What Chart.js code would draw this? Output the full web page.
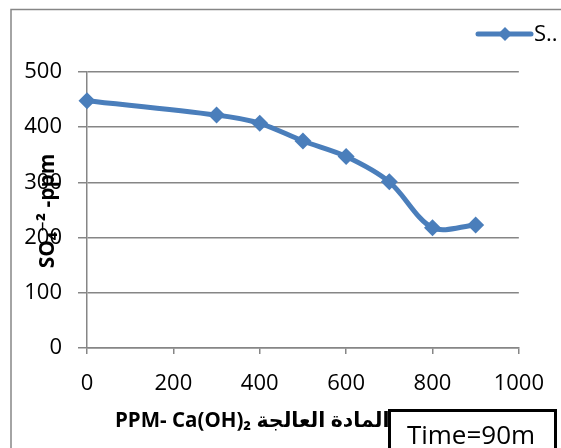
<!DOCTYPE html>
<html>
<head>
<meta charset="utf-8">
<script src="https://cdn.jsdelivr.net/npm/chart.js@4"></script>
<style>
  html, body { margin: 0; padding: 0; background: #fff; }
  #wrap { width: 561px; height: 448px; }
</style>
</head>
<body>
<div id="wrap"><canvas id="grafico" width="561" height="448"></canvas></div>
<script>
// dose of treatment material (ppm Ca(OH)2)
const doses = [0, 300, 400, 500, 600, 700, 800, 900];
// sulfate remaining (ppm)
const sulfate = [448, 422, 407, 375, 347, 301, 218, 223];
const seriesName = "S..";
const xTitle = "PPM- Ca(OH)\u2082 \u0627\u0644\u0645\u0627\u062F\u0629 \u0627\u0644\u0639\u0627\u0644\u062C\u0629";
const yTitle = "SO\u2084\u207B\u00B2 -ppm";
const boxText = "Time=90m";

const blue = "#4a7ebb";
const grey = "#868686";
const fontName = "'Open Sans', 'DejaVu Sans', sans-serif";

// ===== extras: frame, titles, legend, text box =====
const extras = {
  id: "extras",
  afterDraw(chart) {
    const c = chart.ctx;
    c.save();
    // outer frame
    c.strokeStyle = grey;
    c.lineWidth = 1.5;
    c.strokeRect(11, 9.5, 600, 500);

    // y title
    c.fillStyle = "#000";
    c.font = "bold 21px " + fontName;
    c.translate(48, 211);
    c.rotate(-Math.PI / 2);
    c.textAlign = "center";
    c.textBaseline = "middle";
    c.fillText(yTitle, 0, 0);
    c.setTransform(1, 0, 0, 1, 0, 0);

    // x title
    c.font = "bold 20.5px " + fontName;
    c.textAlign = "left";
    c.textBaseline = "middle";
    c.fillText(xTitle, 115, 421);

    // legend
    c.strokeStyle = blue;
    c.lineWidth = 5;
    c.lineCap = "round";
    c.beginPath();
    c.moveTo(478, 34);
    c.lineTo(531, 34);
    c.stroke();
    c.fillStyle = blue;
    c.beginPath();
    c.moveTo(505, 27); c.lineTo(512, 34); c.lineTo(505, 41); c.lineTo(498, 34);
    c.closePath();
    c.fill();
    c.fillStyle = "#000";
    c.font = "22px " + fontName;
    c.textAlign = "left";
    c.fillText(seriesName, 534, 35);

    // text box
    c.fillStyle = "#fff";
    c.fillRect(389, 410, 167, 60);
    c.strokeStyle = "#000";
    c.lineWidth = 3;
    c.strokeRect(389.5, 410.5, 166, 60);
    c.fillStyle = "#000";
    c.font = "26px " + fontName;
    c.textAlign = "center";
    c.fillText(boxText, 471, 437);
    c.restore();
  }
};

new Chart(document.getElementById("grafico"), {
  type: "line",
  data: {
    datasets: [{
      label: seriesName,
      data: doses.map((d, i) => ({ x: d, y: sulfate[i] })),
      borderColor: blue,
      backgroundColor: blue,
      borderWidth: 5,
      tension: 0.32,
      pointStyle: "rectRot",
      pointRadius: 8.5,
      pointBorderWidth: 0,
      clip: false
    }]
  },
  options: {
    responsive: false,
    animation: false,
    devicePixelRatio: 1,
    layout: { padding: { left: 0, top: 72, right: 38, bottom: 0 } },
    plugins: { legend: { display: false }, tooltip: { enabled: false } },
    scales: {
      x: {
        type: "linear",
        min: 0, max: 1000,
        afterFit: s => { s.height = 100; },
        grid: { drawOnChartArea: false, drawTicks: true, tickLength: 6, color: grey, lineWidth: 1.5 },
        border: { color: grey, width: 1.5 },
        ticks: { stepSize: 200, color: "#000", padding: 17, maxRotation: 0, callback: v => String(v), font: { family: fontName, size: 22 } }
      },
      y: {
        min: 0, max: 500,
        afterFit: s => { s.width = 87; },
        grid: { color: grey, lineWidth: 1.5, tickLength: 9 },
        border: { color: grey, width: 1.5 },
        ticks: { stepSize: 100, color: "#000", padding: 16, font: { family: fontName, size: 22 } }
      }
    }
  },
  plugins: [extras]
});
</script>
</body>
</html>
